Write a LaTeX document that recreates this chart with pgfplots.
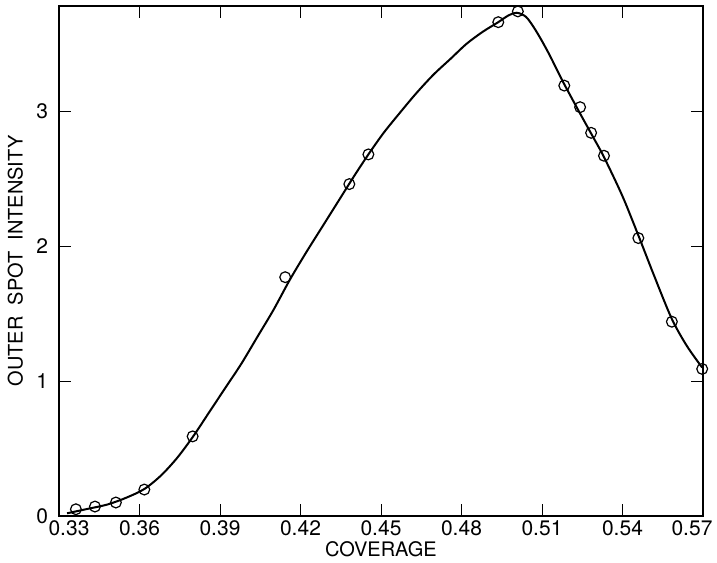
\documentclass[border=0pt]{standalone}
\usepackage{pgfplots}
\pgfplotsset{compat=1.18}
\usepackage{fontspec}
\setmainfont{TeX Gyre Heros}
\begin{document}
\begin{tikzpicture}
\path[use as bounding box] (-29.5pt,-23pt) rectangle (329pt,258pt);
\begin{axis}[
  at={(0pt,0pt)}, anchor=south west,
  scale only axis,
  width=322pt, height=255pt,
  xmin=0.33, xmax=0.57,
  ymin=0, ymax=3.78,
  xtick={0.33,0.36,...,0.571},
  xticklabels={\hspace*{10pt}0.33,0.36,0.39,0.42,0.45,0.48,0.51,0.54,0.57\hspace*{11pt}},
  ytick={0,1,2,3},
  tick align=inside,
  major tick length=6pt,
  tick style={line width=0.5pt, black},
  axis line style={line width=0.8pt},
  ticklabel style={font=\fontsize{10.5}{12}\selectfont},
  /pgf/number format/assume math mode=true,
  yticklabel style={xshift=-2pt},
  xticklabel style={yshift=1pt},
  xlabel={COVERAGE},
  ylabel={OUTER\ \ SPOT\ \ INTENSITY},
  label style={font=\fontsize{9.5}{11}\selectfont},
  every axis x label/.style={at={(axis description cs:0.5,-0.0655)}, anchor=center},
  every axis y label/.style={at={(axis description cs:-0.068,0.5)}, anchor=center, rotate=90},
  clip=false,
]
% fitted curve as drawn in the figure
\addplot[black, line width=1pt, smooth] coordinates {
(0.3330,0.02) (0.3400,0.05) (0.3480,0.085) (0.3550,0.135) (0.3618,0.20)
(0.3680,0.30) (0.3740,0.43) (0.3800,0.59) (0.3860,0.77) (0.3920,0.95)
(0.3980,1.13) (0.4040,1.33) (0.4100,1.53) (0.4160,1.75) (0.4220,1.95)
(0.4280,2.14) (0.4340,2.33) (0.4400,2.52) (0.4453,2.68) (0.4510,2.84)
(0.4571,2.99) (0.4630,3.13) (0.4695,3.27) (0.4760,3.39) (0.4819,3.50)
(0.4880,3.59) (0.4937,3.66) (0.4975,3.71) (0.5006,3.73) (0.5040,3.70)
(0.5070,3.62) (0.5100,3.52) (0.5130,3.41) (0.5160,3.29) (0.5183,3.20)
(0.5240,2.99) (0.5290,2.81) (0.5331,2.66) (0.5400,2.37) (0.5459,2.08)
(0.5520,1.77) (0.5584,1.46) (0.5640,1.26) (0.5697,1.10)
};
% measured points
\addplot[only marks, mark=o, mark size=2.7pt, mark options={fill=white, line width=0.6pt, draw=black}] coordinates {
(0.3363,0.05) (0.3434,0.07) (0.3512,0.10) (0.3618,0.196) (0.3798,0.59)
(0.4143,1.77) (0.4382,2.46) (0.4453,2.68) (0.4937,3.66) (0.5010,3.74)
(0.5183,3.19) (0.5242,3.03) (0.5283,2.84) (0.5331,2.67) (0.5459,2.06)
(0.5584,1.44) (0.5697,1.09)
};
\end{axis}
\end{tikzpicture}
\end{document}
